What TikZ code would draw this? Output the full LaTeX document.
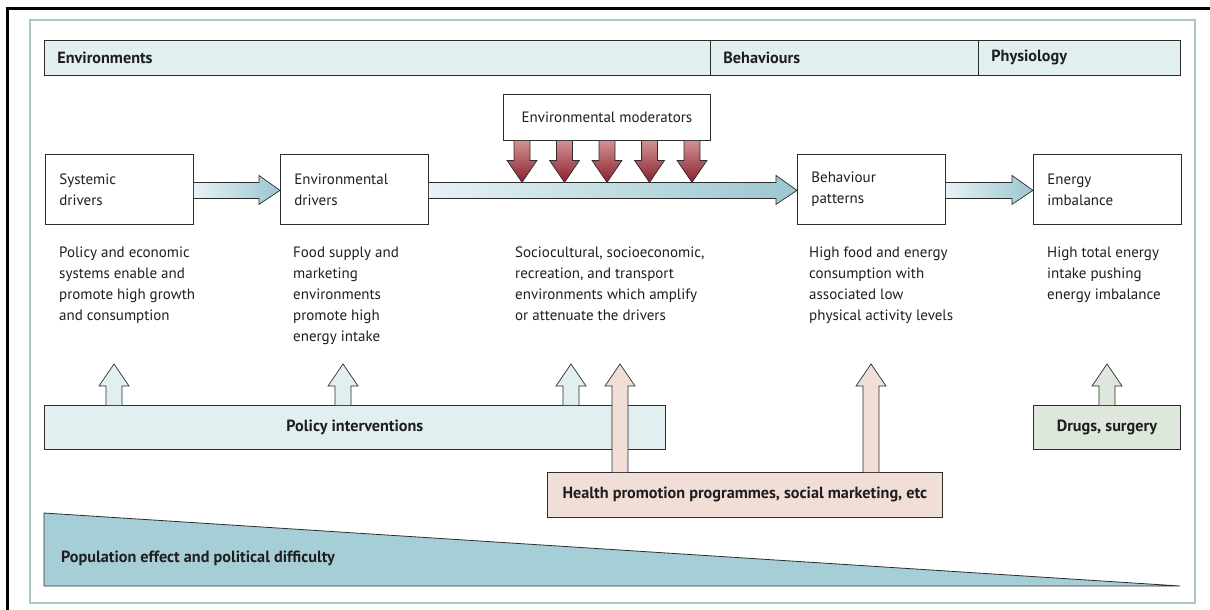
\documentclass[tikz,border=0pt]{standalone}
\usepackage{fontspec}
\setmainfont{PT Sans}
\usepackage{xcolor}
\definecolor{bandfill}{RGB}{225,239,241}
\definecolor{flowlight}{RGB}{230,242,244}
\definecolor{flowdark}{RGB}{155,198,208}
\definecolor{modtop}{RGB}{208,145,145}
\definecolor{modbottom}{RGB}{138,32,48}
\definecolor{healthfill}{RGB}{241,222,215}
\definecolor{drugfill}{RGB}{222,231,219}
\definecolor{wedgefill}{RGB}{166,206,215}
\definecolor{framegreen}{RGB}{172,202,182}
\definecolor{edgegray}{RGB}{45,45,45}
\definecolor{inkgray}{RGB}{30,30,30}
\usetikzlibrary{calc}

\tikzset{
  plaintext/.style={font=\fontsize{15}{21}\selectfont, text=inkgray},
  boldtext/.style={font=\fontsize{16.2}{21}\selectfont\bfseries, text=inkgray},
  bandcell/.style={draw=edgegray, fill=bandfill, line width=0.8pt, minimum height=35,
    inner xsep=13, align=left, anchor=north west, boldtext},
  stagebox/.style={draw=edgegray, fill=white, line width=0.8pt, minimum height=70,
    text width=120, inner xsep=14, align=left, anchor=north west, plaintext},
  notetext/.style={anchor=north west, align=left, inner sep=0, plaintext},
  actionbar/.style={draw=edgegray, line width=0.8pt, anchor=north west, boldtext},
  flowshade/.style={draw=edgegray, line width=0.7pt, left color=flowlight, right color=flowdark},
  modshade/.style={draw=edgegray, line width=0.7pt, top color=modtop, bottom color=modbottom},
  policylift/.style={draw=edgegray, line width=0.7pt, fill=bandfill},
  healthlift/.style={draw=edgegray, line width=0.7pt, fill=healthfill},
  druglift/.style={draw=edgegray, line width=0.7pt, fill=drugfill},
}

% fat arrow from one box to the next
\newcommand{\flowarrow}[2]{%
  \path[flowshade] let \p1=(#1.east), \p2=(#2.west) in
    (\x1,\y1+7pt) -- (\x2-21pt,\y1+7pt) -- (\x2-21pt,\y1+14pt) -- (\x2,\y1-1pt)
    -- (\x2-21pt,\y1-15pt) -- (\x2-21pt,\y1-9pt) -- (\x1,\y1-9pt);
}
% moderator arrow pushing down onto the long flow arrow
\newcommand{\modarrow}[1]{%
  \path[modshade] let \p1=(mods.south), \p2=(envdrv.east) in
    (#1pt-8pt,\y1) -- (#1pt-8pt,\y2+29pt) -- (#1pt-15pt,\y2+29pt) -- (#1pt,\y2+7pt)
    -- (#1pt+15pt,\y2+29pt) -- (#1pt+8pt,\y2+29pt) -- (#1pt+8pt,\y1);
}
% intervention arrow going up from a bar
\newcommand{\liftarrow}[3]{%
  \path[#1] let \p1=(#2.north), \p2=(liftline) in
    (#3pt-8pt,\y1) -- (#3pt-8pt,\y2-22pt) -- (#3pt-15pt,\y2-22pt) -- (#3pt,\y2)
    -- (#3pt+15pt,\y2-22pt) -- (#3pt+8pt,\y2-22pt) -- (#3pt+8pt,\y1);
}

\begin{document}
\begin{tikzpicture}[x=1pt,y=-1pt]
  \useasboundingbox (0,0) rectangle (1210,610);

  % frames
  \draw[line width=3pt] (7,612) -- (7,9) -- (1212,9);
  \draw[framegreen, line width=1.2pt] (30,20) rectangle (1195,603);

  % header band
  \node[bandcell, text width=640] (envband) at (44,40) {Environments};
  \node[bandcell, text width=242] (behband) at (710,40) {Behaviours};
  \node[bandcell, text width=176] (physband) at (978,40) {Physiology};

  % stage boxes
  \node[stagebox] (sysdrv) at (45,154) {Systemic\\drivers};
  \node[stagebox] (envdrv) at (280,154) {Environmental\\drivers};
  \node[stagebox] (behpat) at (797,154) {Behaviour\\patterns};
  \node[stagebox] (energy) at (1033,154) {Energy\\imbalance};

  \node[draw=edgegray, fill=white, line width=0.8pt, minimum width=207, minimum height=46,
    anchor=north west, plaintext] (mods) at (503,94) {Environmental moderators};

  % flow arrows
  \flowarrow{sysdrv}{envdrv}
  \flowarrow{envdrv}{behpat}
  \flowarrow{behpat}{energy}

  \foreach \mx in {522,564.5,607,649.5,692}{
    \modarrow{\mx}
  }

  % descriptions
  \node[notetext] (sysnote) at (59,247) {Policy and economic\\systems enable and\\promote high growth\\and consumption};
  \node[notetext] (envnote) at (293,247) {Food supply and\\marketing\\environments\\promote high\\energy intake};
  \node[notetext] (modnote) at (515,247) {Sociocultural, socioeconomic,\\recreation, and transport\\environments which amplify\\or attenuate the drivers};
  \node[notetext] (behnote) at (809,247) {High food and energy\\consumption with\\associated low\\physical activity levels};
  \node[notetext] (energynote) at (1047,247) {High total energy\\intake pushing\\energy imbalance};

  \coordinate (liftline) at (0,364);

  % interventions
  \node[actionbar, fill=bandfill, minimum width=621, minimum height=44] (policy) at (44,405) {Policy interventions};
  \node[actionbar, fill=drugfill, minimum width=147, minimum height=44] (drugs) at (1033,405) {Drugs, surgery};
  \node[actionbar, fill=healthfill, minimum width=395, minimum height=45] (health) at (547,472) {Health promotion programmes, social marketing, etc};

  \foreach \px in {114,343,571}{
    \liftarrow{policylift}{policy}{\px}
  }
  \foreach \hx in {620,871}{
    \liftarrow{healthlift}{health}{\hx}
  }
  \liftarrow{druglift}{drugs}{1107}

  % population wedge
  \draw[edgegray, line width=0.8pt, fill=wedgefill] (44,513) -- (1180,586) -- (44,586) -- cycle;
  \node[anchor=west, boldtext, inner sep=0] (wedge) at (61,558) {Population effect and political difficulty};
\end{tikzpicture}
\end{document}
